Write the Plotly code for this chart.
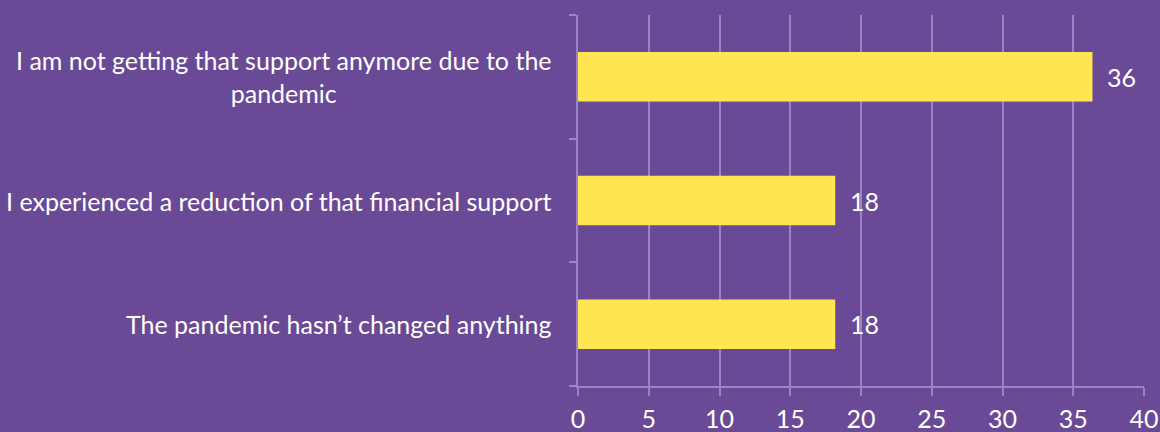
import plotly.graph_objects as go

categories = [
    "I am not getting that support anymore due to the<br>pandemic",
    "I experienced a reduction of that financial support",
    "The pandemic hasn\u2019t changed anything",
]
values = [36.36, 18.18, 18.18]
value_labels = ["36", "18", "18"]
x_ticks = [0, 5, 10, 15, 20, 25, 30, 35, 40]

BG = "#6A4A97"
GRID = "#9A84C6"
BAR = "#FFE552"
FONT = "Lato"
FS = 25

fig = go.Figure()
fig.add_trace(go.Bar(
    x=values, y=categories, orientation="h",
    marker=dict(color=BAR, line=dict(width=0)),
    hoverinfo="skip",
))

annotations = []
for c, v, t in zip(categories, values, value_labels):
    annotations.append(dict(
        x=v, y=c, xref="x", yref="y", text=t, showarrow=False,
        xanchor="left", xshift=13, font=dict(family=FONT, size=FS, color="white"),
    ))
    annotations.append(dict(
        x=0, y=c, xref="paper", yref="y", text=c, showarrow=False,
        xanchor="right", xshift=-24, align="center",
        font=dict(family=FONT, size=FS, color="white"),
    ))

fig.update_layout(
    width=1160, height=432,
    paper_bgcolor=BG, plot_bgcolor=BG,
    margin=dict(l=578, r=16, t=15, b=46, autoexpand=False),
    bargap=0.6,
    showlegend=False,
    annotations=annotations,
    xaxis=dict(
        range=[0, 40], tickvals=x_ticks, ticktext=[str(v) for v in x_ticks],
        showgrid=True, gridcolor=GRID, gridwidth=2,
        showline=True, linecolor=GRID, linewidth=2,
        ticks="outside", ticklen=8, tickcolor=GRID, tickwidth=2,
        ticklabelstandoff=2,
        tickfont=dict(family=FONT, size=FS, color="white"),
        zeroline=False, fixedrange=True, automargin=False,
    ),
    yaxis=dict(
        categoryorder="array", categoryarray=categories[::-1],
        showticklabels=False,
        showline=True, linecolor=GRID, linewidth=2,
        ticks="outside", ticklen=7, tickcolor=GRID, tickwidth=2,
        tickson="boundaries", showgrid=False, zeroline=False, fixedrange=True,
        automargin=False,
    ),
)

fig.write_html(
    "out.html",
    config={"displayModeBar": False},
    post_script="document.body.style.margin='0';document.body.style.overflow='hidden';",
)
